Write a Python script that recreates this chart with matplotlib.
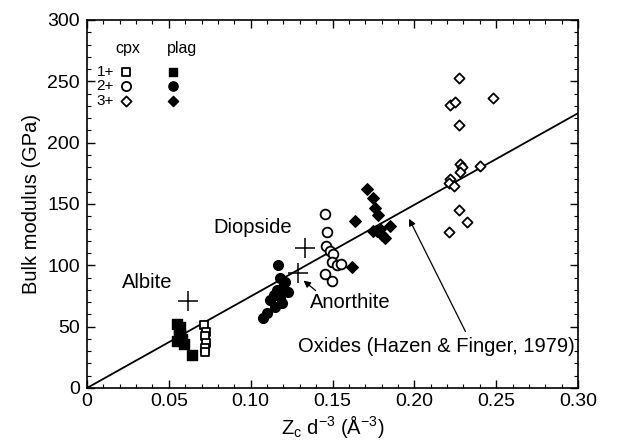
import matplotlib
matplotlib.use("Agg")
import matplotlib.pyplot as plt
from matplotlib.ticker import MultipleLocator

plt.rcParams['font.family'] = ['Liberation Sans', 'DejaVu Sans']

# cpx 1+ (open squares) and plag 1+ (filled squares)
cpx1_x = [0.0715, 0.0725, 0.0720, 0.0727, 0.0718, 0.0722]
cpx1_y = [51, 46, 42, 37, 33, 29]
plag1_x = [0.055, 0.056, 0.057, 0.058, 0.055, 0.059, 0.057, 0.0565, 0.064]
plag1_y = [52, 48, 44, 40, 38, 36, 50, 42, 27]

# cpx 2+ (open circles) and plag 2+ (filled circles)
cpx2_x = [0.1454, 0.1464, 0.146, 0.1485, 0.150, 0.1495, 0.153, 0.1454, 0.1495, 0.155]
cpx2_y = [142, 127, 116, 112, 109, 103, 100, 93, 87, 101]
plag2_x = [0.1165, 0.118, 0.121, 0.116, 0.114, 0.118, 0.119, 0.123, 0.1077, 0.110, 0.112, 0.120, 0.115]
plag2_y = [100, 90, 86, 80, 76, 74, 69, 78, 57, 61, 72, 82, 66]

# cpx 3+ (open diamonds) and plag 3+ (filled diamonds)
cpx3_x = [0.227, 0.222, 0.225, 0.248, 0.227, 0.228, 0.229, 0.228, 0.240, 0.222, 0.221, 0.224, 0.227, 0.232, 0.221]
cpx3_y = [253, 231, 233, 236, 214, 183, 180, 176, 181, 170, 167, 165, 145, 135, 127]
plag3_x = [0.1637, 0.1617, 0.171, 0.1745, 0.176, 0.178, 0.177, 0.180, 0.185, 0.182, 0.175, 0.179]
plag3_y = [136, 99, 162, 155, 147, 141, 128, 125, 132, 122, 128, 130]

# reference minerals (crosses)
mineral_names = ['Albite', 'Diopside', 'Anorthite']
mineral_x = [0.062, 0.133, 0.129]
mineral_y = [71, 114, 94]

# Hazen & Finger (1979) oxide trend
line_x = [0.0, 0.30]
line_y = [0.0, 224.0]

fig = plt.figure(figsize=(6.37, 4.47), dpi=100)
ax = fig.add_axes([0.1366, 0.132, 0.7708, 0.8233])

ax.plot(line_x, line_y, color='black', lw=1.3, zorder=1)

ms = 7
ax.scatter(cpx1_x, cpx1_y, marker='s', s=ms**2 * 0.8, facecolors='white', edgecolors='black', linewidths=1.3, zorder=3)
ax.scatter(plag1_x, plag1_y, marker='s', s=ms**2 * 0.9, facecolors='black', edgecolors='black', zorder=3)
ax.scatter(cpx2_x, cpx2_y, marker='o', s=ms**2 * 1.0, facecolors='white', edgecolors='black', linewidths=1.3, zorder=3)
ax.scatter(plag2_x, plag2_y, marker='o', s=ms**2 * 1.0, facecolors='black', edgecolors='black', zorder=3)
ax.scatter(cpx3_x, cpx3_y, marker='D', s=ms**2 * 0.55, facecolors='white', edgecolors='black', linewidths=1.3, zorder=3)
ax.scatter(plag3_x, plag3_y, marker='D', s=ms**2 * 0.7, facecolors='black', edgecolors='black', zorder=3)

ax.scatter(mineral_x, mineral_y, marker='+', s=220, color='black', linewidths=1.1, zorder=4)

# annotations
ax.text(0.037, 86, 'Albite', fontsize=14.5, ha='center', va='center')
ax.text(0.101, 131, 'Diopside', fontsize=14.5, ha='center', va='center')
ax.text(0.161, 70, 'Anorthite', fontsize=14.5, ha='center', va='center')
ax.annotate('', xy=(0.131, 89), xytext=(0.141, 78),
            arrowprops=dict(arrowstyle='-|>', color='black', lw=0.9, mutation_scale=10))
ax.text(0.129, 34, 'Oxides (Hazen & Finger, 1979)', fontsize=14.5, ha='left', va='center')
ax.annotate('', xy=(0.196, 140), xytext=(0.232, 44),
            arrowprops=dict(arrowstyle='-|>', color='black', lw=0.9, mutation_scale=10))

# legend drawn as text + markers
ax.text(0.025, 277, 'cpx', fontsize=11.5, ha='center', va='center')
ax.text(0.058, 277, 'plag', fontsize=11.5, ha='center', va='center')
for lab, yy, mk, sz in [('1+', 258, 's', 0.8), ('2+', 246, 'o', 0.9), ('3+', 234, 'D', 0.55)]:
    ax.text(0.0165, yy, lab, fontsize=11, ha='right', va='center')
    ax.scatter([0.024], [yy], marker=mk, s=ms**2 * sz, facecolors='white', edgecolors='black', linewidths=1.3)
    ax.scatter([0.0525], [yy], marker=mk, s=ms**2 * sz, facecolors='black', edgecolors='black')

ax.set_xlim(0, 0.30)
ax.set_ylim(0, 300)
ax.set_xticks([0, 0.05, 0.10, 0.15, 0.20, 0.25, 0.30])
ax.set_xticklabels(['0', '0.05', '0.10', '0.15', '0.20', '0.25', '0.30'])
ax.xaxis.set_minor_locator(MultipleLocator(0.01))
ax.yaxis.set_major_locator(MultipleLocator(50))
ax.yaxis.set_minor_locator(MultipleLocator(10))
ax.tick_params(which='both', direction='in', top=True, right=True, labelsize=14)
ax.tick_params(which='major', length=6, width=1)
ax.tick_params(which='minor', length=3, width=0.8)
ax.tick_params(axis='y', pad=5)
for sp in ax.spines.values():
    sp.set_linewidth(1.2)

ax.set_xlabel(r'Z$_\mathregular{c}$ d$^\mathregular{-3}$ (Å$^\mathregular{-3}$)', fontsize=14.5, labelpad=2)
ax.set_ylabel('Bulk modulus (GPa)', fontsize=14.5, labelpad=5)

fig.savefig('out.png', dpi=100)
